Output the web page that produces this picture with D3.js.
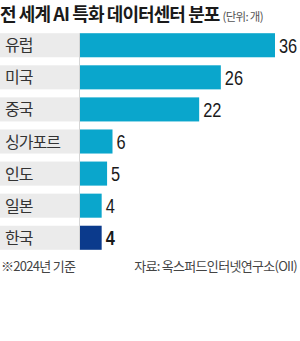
<!DOCTYPE html>
<html>
<head>
<meta charset="utf-8">
<script src="https://cdn.jsdelivr.net/npm/d3@7"></script>
<style>
  body { margin: 0; background: #fff; }
  svg { display: block; font-family: "Noto Sans CJK KR", "Noto Sans", sans-serif; }
</style>
</head>
<body>
<div id="chart"></div>
<script>
const countries = ['유럽', '미국', '중국', '싱가포르', '인도', '일본', '한국'];
const centers = [36, 26, 22, 6, 5, 4, 4];
const highlight = '한국';

const width = 300;
const height = 341;
const marginLeft = 80;

const svg = d3.select('#chart')
	.append('svg')
	.attr('width', width)
	.attr('height', height);

// title
const title = svg.append('text')
	.attr('x', 0)
	.attr('y', 20.5)
	.style('font-size', '18px')
	.style('font-weight', 'bold')
	.style('letter-spacing', '-0.9px')
	.attr('fill', '#1a1a1a');
title.append('tspan').text('전 세계 AI 특화 데이터센터 분포');
title.append('tspan')
	.attr('dx', 3)
	.style('font-size', '11.5px')
	.style('font-weight', 'normal')
	.style('letter-spacing', '-0.7px')
	.attr('fill', '#555')
	.text('(단위: 개)');

const y = d3.scaleBand()
	.domain(countries)
	.range([30, 253])
	.paddingInner(0.25)
	.paddingOuter(0.1);

const x = d3.scaleLinear()
	.domain([0, 36])
	.range([marginLeft, 275]);

const rows = countries.map((c, i) => ({ country: c, value: centers[i] }));

// label background
svg.selectAll('.label-bg')
	.data(rows)
	.join('rect')
	.attr('class', 'label-bg')
	.attr('x', 0)
	.attr('y', (d) => y(d.country))
	.attr('width', marginLeft)
	.attr('height', y.bandwidth())
	.attr('fill', '#ebebeb');

svg.append('line')
	.attr('x1', marginLeft - 0.5)
	.attr('x2', marginLeft - 0.5)
	.attr('y1', y(countries[0]))
	.attr('y2', y(countries[countries.length - 1]) + y.bandwidth())
	.attr('stroke', '#d6d6d6')
	.attr('stroke-width', 1);

svg.selectAll('.bar')
	.data(rows)
	.join('rect')
	.attr('class', 'bar')
	.attr('x', marginLeft)
	.attr('y', (d) => y(d.country))
	.attr('width', (d) => x(d.value) - marginLeft)
	.attr('height', y.bandwidth())
	.attr('fill', (d) => d.country === highlight ? '#0b3a8c' : '#0aa6cc');

svg.selectAll('.country')
	.data(rows)
	.join('text')
	.attr('class', 'country')
	.attr('x', 5)
	.attr('y', (d) => y(d.country) + y.bandwidth() / 2 + 6)
	.style('font-size', '16px')
	.style('letter-spacing', '-1px')
	.attr('fill', '#333')
	.text((d) => d.country);

// values are set in a condensed face, squeezed horizontally
svg.selectAll('.value')
	.data(rows)
	.join('text')
	.attr('class', 'value')
	.attr('transform', (d) => `translate(${x(d.value) + 4},${y(d.country) + y.bandwidth() / 2 + 7.5}) scale(0.78,1)`)
	.style('font-family', '"Liberation Sans", Arial, sans-serif')
	.style('font-size', '21px')
	.style('font-weight', (d) => d.country === highlight ? 'bold' : 'normal')
	.attr('fill', '#1a1a1a')
	.text((d) => d.value);

// footnotes
svg.append('text')
	.attr('x', 1)
	.attr('y', 271)
	.style('font-size', '13px')
	.style('letter-spacing', '-0.7px')
	.attr('fill', '#444')
	.text('※2024년 기준');

svg.append('text')
	.attr('x', 297)
	.attr('y', 271)
	.attr('text-anchor', 'end')
	.style('font-size', '13px')
	.style('letter-spacing', '-0.7px')
	.attr('fill', '#444')
	.text('자료: 옥스퍼드인터넷연구소(OII)');
</script>
</body>
</html>
